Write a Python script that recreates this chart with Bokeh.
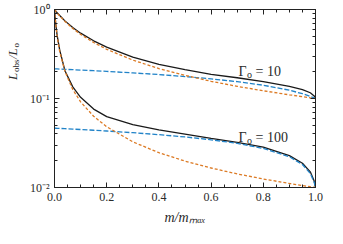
import math
from bokeh.plotting import figure
from bokeh.layouts import row
from bokeh.models import (Range1d, LinearAxis, LogAxis, FixedTicker, CustomJSTickFormatter, Label)
from bokeh.embed import file_html
from bokeh.resources import INLINE

# ---- data ----
m = [0.0, 0.005, 0.01, 0.02, 0.04, 0.07, 0.1, 0.15, 0.2, 0.3, 0.4, 0.5,
     0.6, 0.7, 0.8, 0.9, 0.95, 0.98, 0.995, 1.0]

# Gamma_o = 10
black_10 = [1.0, 0.96, 0.92, 0.855, 0.745, 0.628, 0.542, 0.445, 0.378, 0.292,
            0.242, 0.211, 0.187, 0.171, 0.155, 0.137, 0.126, 0.116, 0.107, 0.1]
blue_10 = [0.2154, 0.2151, 0.2148, 0.2141, 0.2128, 0.2108, 0.2088, 0.2053, 0.2017,
           0.1940, 0.1857, 0.1765, 0.1663, 0.1547, 0.1410, 0.1239, 0.1132, 0.1057,
           0.1015, 0.1]
orange_10 = [1.0, 0.957, 0.917, 0.847, 0.735, 0.613, 0.526, 0.426, 0.357, 0.270,
             0.217, 0.182, 0.156, 0.137, 0.122, 0.110, 0.1047, 0.1018, 0.1005, 0.1]

# Gamma_o = 100
black_100 = [1.0, 0.68, 0.515, 0.35, 0.205, 0.135, 0.103, 0.076, 0.0625, 0.051,
             0.0445, 0.0398, 0.0356, 0.0322, 0.0284, 0.0228, 0.0187, 0.0150, 0.0118, 0.01]
blue_100 = [0.04642, 0.04634, 0.04626, 0.04611, 0.04579, 0.04531, 0.04483, 0.04400,
            0.04313, 0.04127, 0.03924, 0.03696, 0.03437, 0.03132, 0.02750, 0.02217,
            0.01812, 0.01439, 0.01143, 0.01]
orange_100 = [1.0, 0.669, 0.503, 0.336, 0.202, 0.126, 0.0917, 0.0631, 0.0481, 0.0326,
              0.0246, 0.0198, 0.01656, 0.01422, 0.01247, 0.0111, 0.01052, 0.0102,
              0.01005, 0.01]

x_ticks = [0.0, 0.2, 0.4, 0.6, 0.8, 1.0]
x_minor = [0.05, 0.1, 0.15, 0.25, 0.3, 0.35, 0.45, 0.5, 0.55, 0.65, 0.7, 0.75,
           0.85, 0.9, 0.95]
y_ticks = [0.01, 0.1, 1.0]
y_tick_labels = ["10\u207b\u00b2", "10\u207b\u00b9", "10\u2070"]
y_minor = [0.02, 0.03, 0.04, 0.05, 0.06, 0.07, 0.08, 0.09,
           0.2, 0.3, 0.4, 0.5, 0.6, 0.7, 0.8, 0.9]
x_label = "m/m\u2098\u2090\u2093"

BLACK = "#1a1a1a"
BLUE = "#2183c8"
ORANGE = "#dc7a24"
TXT = "#2a2a2a"
FONT = "Liberation Serif"

H = 228

p = figure(width=303, height=H, x_range=Range1d(0, 1), y_range=Range1d(0.01, 1),
           y_axis_type="log", output_backend="svg", toolbar_location=None,
           min_border_left=30, min_border_right=12, min_border_top=9,
           min_border_bottom=41)
p.grid.visible = False
p.outline_line_color = "#222222"
p.background_fill_color = "white"
p.border_fill_color = "white"

xb = p.below[0]
yl = p.left[0]

xt = FixedTicker(ticks=x_ticks, minor_ticks=x_minor)
yt = FixedTicker(ticks=y_ticks, minor_ticks=y_minor)

xb.ticker = xt
yl.ticker = yt
xb.formatter = CustomJSTickFormatter(code="return tick.toFixed(1);")
yl.formatter = CustomJSTickFormatter(
    args=dict(vals=y_ticks, labs=y_tick_labels),
    code="for (let i = 0; i < vals.length; i++) { if (Math.abs(vals[i] - tick) < 1e-9) return labs[i]; } return '';")

blank = CustomJSTickFormatter(code="return '';")
top = LinearAxis(ticker=xt, formatter=blank, major_label_standoff=0)
right = LogAxis(ticker=yt, formatter=blank, major_label_standoff=0)
p.add_layout(top, "above")
p.add_layout(right, "right")

for ax in [xb, yl, top, right]:
    ax.major_tick_in = 5
    ax.major_tick_out = 0
    ax.minor_tick_in = 3
    ax.minor_tick_out = 0
    ax.axis_line_color = "#222222"
    ax.major_tick_line_color = "#222222"
    ax.minor_tick_line_color = "#222222"
    ax.major_label_text_font = FONT
    ax.major_label_text_color = TXT
    ax.major_label_text_font_size = "12px"
xb.major_label_standoff = 5
yl.major_label_standoff = 5

xb.axis_label = x_label
xb.axis_label_text_font = FONT
xb.axis_label_text_font_style = "italic"
xb.axis_label_text_font_size = "14px"
xb.axis_label_text_color = TXT
xb.axis_label_standoff = 6

p.line(m, black_10, color=BLACK, line_width=1.3)
p.line(m, black_100, color=BLACK, line_width=1.3)
p.line(m, blue_10, color=BLUE, line_width=1.3, line_dash="5 2")
p.line(m, blue_100, color=BLUE, line_width=1.3, line_dash="5 2")
p.line(m, orange_10, color=ORANGE, line_width=1.3, line_dash="3 2")
p.line(m, orange_100, color=ORANGE, line_width=1.3, line_dash="3 2")

def lab(fig, text, x, y, size, style="normal", angle=0.0):
    fig.add_layout(Label(x=x, y=y, x_units="screen", y_units="screen", text=text,
                         text_font=FONT, text_font_size=size, text_font_style=style,
                         text_color=TXT, text_baseline="alphabetic",
                         text_align="left", angle=angle))

# Gamma labels (frame-relative screen px)
for base_y, num in [(116, "10"), (50, "100")]:
    lab(p, "\u0393", 184, base_y, "14px")
    lab(p, "o", 192.5, base_y - 3, "10px")
    lab(p, "= " + num, 201, base_y, "14px")

# y-axis label L_obs / L_o (rotated), in a strip left of the plot
ylab = figure(width=24, height=H, x_range=Range1d(0, 1), y_range=Range1d(0, 1),
              output_backend="svg", toolbar_location=None,
              min_border=0, x_axis_location=None, y_axis_location=None)
ylab.grid.visible = False
ylab.outline_line_color = None
ylab.background_fill_color = "white"
ylab.border_fill_color = "white"
a = math.pi / 2
yb = H - 120.5  # baseline start measured from the bottom of the strip
lab(ylab, "L", 12, yb, "13px", "italic", a)
lab(ylab, "obs", 15, yb + 8, "9px", "normal", a)
lab(ylab, "/L", 12, yb + 21, "13px", "italic", a)
lab(ylab, "o", 15, yb + 32.5, "9px", "normal", a)

layout = row(ylab, p, spacing=0)

open("out.html", "w").write(file_html(layout, INLINE))
